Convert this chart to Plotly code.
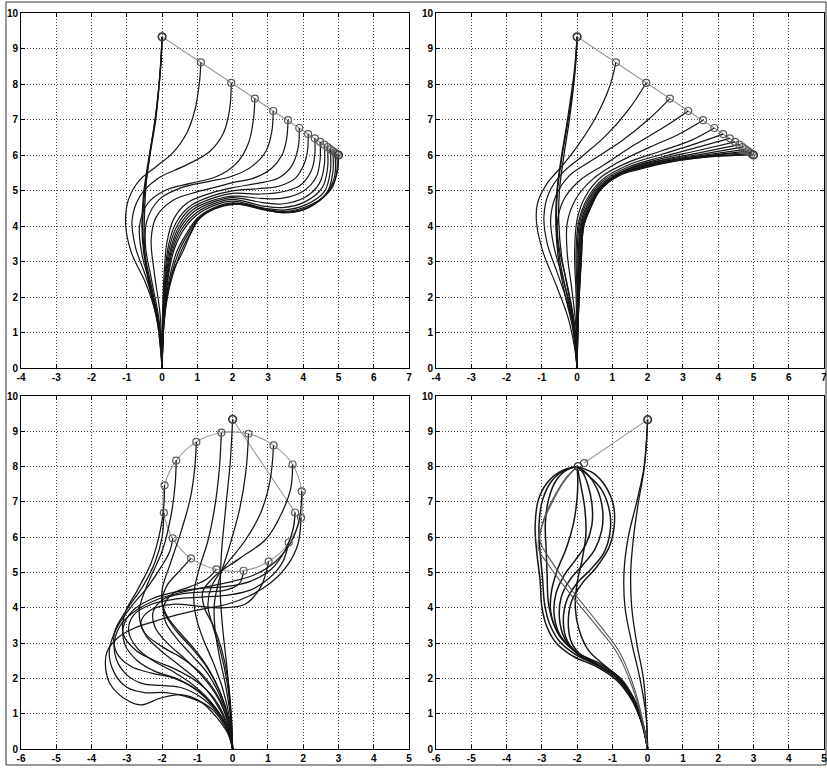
import plotly.graph_objects as go

# ---------------------------------------------------------------- data
# Target points shared by the two upper panels (straight-line trajectory)
TOP_TIP_X = [0.00, 1.10, 1.96, 2.63, 3.15, 3.57, 3.89, 4.14, 4.33, 4.48, 4.60, 4.69, 4.77, 4.84, 4.90, 4.95, 5.00]
TOP_TIP_Y = [9.33, 8.61, 8.03, 7.59, 7.24, 6.98, 6.76, 6.59, 6.47, 6.37, 6.29, 6.22, 6.16, 6.11, 6.07, 6.03, 6.00]

# Upper-left panel: backbone shapes (base -> tip)
TL_X = [
    [0, -0.09, -0.33, -0.52, -0.57, -0.52, -0.38, -0.19, -0.05, 0.00],
    [0, -0.12, -0.38, -0.50, -0.50, -0.45, -0.32, -0.16, -0.04, 0.00],
    [0, -0.06, -0.28, -0.47, -0.55, -0.50, -0.36, -0.18, -0.05, 0.00],
    [0, -0.05, -0.17, -0.47, -0.87, -1.03, -0.96, -0.65, -0.20, 0.30, 0.70, 0.94, 1.06, 1.10],
    [0, -0.03, -0.17, -0.47, -0.76, -0.85, -0.62, -0.10, 0.65, 1.35, 1.74, 1.92, 1.96],
    [0, -0.02, -0.13, -0.36, -0.58, -0.64, -0.42, 0.08, 0.80, 1.56, 2.12, 2.45, 2.59, 2.63],
    [0, -0.02, -0.10, -0.30, -0.47, -0.43, -0.08, 0.55, 1.30, 2.00, 2.55, 2.95, 3.11, 3.15],
    [0, -0.01, -0.06, -0.22, -0.31, -0.17, 0.30, 0.99, 1.55, 2.00, 2.60, 3.10, 3.40, 3.53, 3.57],
    [0, 0.01, 0.05, 0.14, 0.33, 0.71, 1.37, 2.00, 2.70, 3.30, 3.68, 3.86, 3.89],
    [0, 0.02, 0.07, 0.18, 0.40, 0.78, 1.40, 2.00, 2.70, 3.30, 3.78, 4.04, 4.13, 4.14],
    [0, 0.02, 0.08, 0.21, 0.45, 0.82, 1.42, 2.00, 2.75, 3.35, 3.92, 4.24, 4.33, 4.33],
    [0, 0.03, 0.09, 0.24, 0.49, 0.86, 1.44, 2.00, 2.80, 3.38, 4.00, 4.37, 4.48, 4.48],
    [0, 0.03, 0.10, 0.26, 0.52, 0.90, 1.46, 2.00, 2.85, 3.40, 4.04, 4.46, 4.60, 4.60],
    [0, 0.04, 0.11, 0.28, 0.55, 0.93, 1.47, 2.00, 2.88, 3.42, 4.05, 4.54, 4.69, 4.69],
    [0, 0.04, 0.12, 0.30, 0.58, 0.96, 1.48, 2.00, 2.91, 3.43, 4.03, 4.60, 4.77, 4.77],
    [0, 0.04, 0.13, 0.40, 0.70, 1.00, 1.48, 2.02, 2.94, 3.44, 4.02, 4.65, 4.84, 4.84],
    [0, 0.05, 0.14, 0.46, 0.75, 1.02, 1.47, 2.03, 2.97, 3.44, 4.01, 4.55, 4.88, 4.90],
    [0, 0.05, 0.15, 0.52, 0.80, 1.03, 1.46, 2.03, 2.98, 3.44, 4.00, 4.50, 4.84, 4.96, 4.95],
    [0, 0.05, 0.15, 0.30, 0.57, 0.82, 1.04, 1.46, 2.03, 2.50, 3.07, 3.44, 4.00, 4.48, 4.81, 4.98, 5.00],
]
TL_Y = [
    [0, 1.17, 2.30, 3.24, 4.00, 4.94, 5.89, 7.02, 8.43, 9.33],
    [0, 1.20, 2.40, 3.40, 4.30, 5.20, 6.20, 7.30, 8.50, 9.33],
    [0, 1.10, 2.20, 3.10, 3.90, 4.90, 5.90, 7.00, 8.40, 9.33],
    [0, 0.60, 1.50, 2.40, 3.25, 4.00, 4.72, 5.28, 5.65, 6.06, 6.62, 7.31, 8.06, 8.61],
    [0, 0.70, 1.62, 2.60, 3.42, 4.18, 4.85, 5.35, 5.70, 6.10, 6.62, 7.32, 8.03],
    [0, 0.60, 1.45, 2.40, 3.25, 4.00, 4.62, 5.00, 5.20, 5.40, 5.78, 6.34, 7.00, 7.59],
    [0, 0.60, 1.45, 2.49, 3.43, 4.15, 4.75, 5.08, 5.25, 5.41, 5.68, 6.12, 6.66, 7.24],
    [0, 0.60, 1.55, 2.68, 3.62, 4.25, 4.72, 4.96, 5.10, 5.22, 5.35, 5.62, 6.00, 6.45, 6.98],
    [0, 1.36, 2.49, 3.55, 4.20, 4.65, 4.92, 5.08, 5.20, 5.35, 5.70, 6.22, 6.76],
    [0, 1.30, 2.40, 3.45, 4.10, 4.55, 4.84, 4.99, 5.05, 5.12, 5.35, 5.78, 6.18, 6.59],
    [0, 1.30, 2.35, 3.40, 4.05, 4.50, 4.78, 4.92, 4.90, 4.95, 5.15, 5.58, 6.02, 6.47],
    [0, 1.28, 2.30, 3.35, 4.00, 4.45, 4.72, 4.84, 4.78, 4.78, 4.98, 5.38, 5.88, 6.37],
    [0, 1.27, 2.25, 3.30, 3.95, 4.40, 4.68, 4.80, 4.66, 4.62, 4.80, 5.20, 5.72, 6.29],
    [0, 1.25, 2.20, 3.25, 3.90, 4.34, 4.63, 4.75, 4.56, 4.52, 4.68, 5.08, 5.62, 6.22],
    [0, 1.24, 2.15, 3.20, 3.85, 4.29, 4.58, 4.70, 4.50, 4.45, 4.58, 4.97, 5.56, 6.16],
    [0, 1.23, 2.10, 3.24, 3.80, 4.22, 4.52, 4.65, 4.47, 4.41, 4.52, 4.90, 5.50, 6.11],
    [0, 1.22, 2.05, 3.24, 3.80, 4.20, 4.49, 4.63, 4.45, 4.39, 4.48, 4.80, 5.35, 6.07],
    [0, 1.21, 2.02, 3.24, 3.80, 4.19, 4.47, 4.62, 4.44, 4.38, 4.46, 4.74, 5.12, 5.60, 6.03],
    [0, 1.20, 2.00, 2.70, 3.24, 3.80, 4.18, 4.47, 4.61, 4.58, 4.42, 4.37, 4.45, 4.74, 5.10, 5.58, 6.00],
]

# Upper-right panel: backbone shapes (base -> tip)
TR_X = [
    [0, -0.11, -0.30, -0.49, -0.58, -0.56, -0.44, -0.25, -0.06, 0.00],
    [0, -0.08, -0.26, -0.44, -0.52, -0.50, -0.38, -0.21, -0.05, 0.00],
    [0, -0.13, -0.34, -0.52, -0.60, -0.58, -0.46, -0.28, -0.08, 0.00],
    [0, -0.06, -0.25, -0.60, -0.97, -1.15, -1.12, -0.85, -0.40, 0.08, 0.55, 0.93, 1.10],
    [0, -0.05, -0.24, -0.56, -0.85, -0.94, -0.80, -0.42, 0.14, 0.80, 1.46, 1.96],
    [0, -0.03, -0.17, -0.42, -0.66, -0.75, -0.61, -0.24, 0.42, 1.27, 2.02, 2.63],
    [0, -0.02, -0.12, -0.31, -0.50, -0.56, -0.38, 0.05, 0.80, 1.65, 2.49, 3.15],
    [0, -0.01, -0.05, -0.16, -0.28, -0.28, -0.05, 0.42, 1.18, 2.02, 2.91, 3.57],
    [0, -0.01, -0.03, -0.07, 0.00, 0.24, 0.71, 1.46, 2.40, 3.25, 3.89],
    [0, 0.00, 0.00, -0.03, 0.04, 0.28, 0.70, 1.45, 2.40, 3.30, 4.14],
    [0, 0.005, 0.01, 0.00, 0.07, 0.30, 0.70, 1.45, 2.42, 3.35, 4.33],
    [0, 0.01, 0.02, 0.03, 0.10, 0.32, 0.69, 1.45, 2.44, 3.40, 4.48],
    [0, 0.01, 0.03, 0.05, 0.12, 0.34, 0.68, 1.40, 2.45, 3.45, 4.60],
    [0, 0.01, 0.04, 0.07, 0.14, 0.36, 0.67, 1.35, 2.46, 3.50, 4.69],
    [0, 0.015, 0.045, 0.09, 0.16, 0.37, 0.66, 1.30, 2.50, 3.55, 4.77],
    [0, 0.02, 0.05, 0.10, 0.17, 0.38, 0.66, 1.26, 2.52, 3.60, 4.84],
    [0, 0.02, 0.055, 0.11, 0.18, 0.39, 0.65, 1.24, 2.55, 3.62, 4.90],
    [0, 0.02, 0.06, 0.115, 0.19, 0.40, 0.65, 1.22, 2.58, 3.65, 4.95],
    [0, 0.02, 0.06, 0.12, 0.19, 0.40, 0.65, 1.21, 1.78, 2.63, 3.67, 4.52, 5.00],
]
TR_Y = [
    [0, 1.17, 2.11, 3.05, 4.00, 4.94, 5.88, 7.00, 8.40, 9.33],
    [0, 1.20, 2.20, 3.15, 4.10, 5.00, 5.95, 7.05, 8.45, 9.33],
    [0, 1.15, 2.05, 3.00, 3.95, 4.90, 5.85, 6.95, 8.35, 9.33],
    [0, 0.51, 1.40, 2.35, 3.28, 4.10, 4.65, 5.20, 5.72, 6.35, 7.10, 7.95, 8.61],
    [0, 0.89, 1.74, 2.68, 3.52, 4.27, 4.93, 5.49, 5.96, 6.53, 7.28, 8.03],
    [0, 0.80, 1.64, 2.58, 3.43, 4.18, 4.83, 5.40, 5.85, 6.40, 7.00, 7.59],
    [0, 0.70, 1.55, 2.49, 3.33, 4.08, 4.74, 5.26, 5.75, 6.30, 6.80, 7.24],
    [0, 0.70, 1.36, 2.30, 3.24, 4.08, 4.74, 5.30, 5.80, 6.20, 6.60, 6.98],
    [0, 1.00, 2.11, 3.24, 4.18, 4.84, 5.40, 5.80, 6.12, 6.42, 6.76],
    [0, 1.00, 2.10, 3.20, 4.10, 4.76, 5.30, 5.72, 6.02, 6.30, 6.59],
    [0, 1.00, 2.10, 3.15, 4.08, 4.71, 5.24, 5.66, 5.95, 6.20, 6.47],
    [0, 1.00, 2.08, 3.10, 4.06, 4.67, 5.18, 5.62, 5.91, 6.12, 6.37],
    [0, 1.00, 2.06, 3.08, 4.04, 4.63, 5.13, 5.58, 5.87, 6.06, 6.29],
    [0, 1.00, 2.05, 3.06, 4.03, 4.60, 5.10, 5.54, 5.85, 6.02, 6.22],
    [0, 1.00, 2.04, 3.04, 4.02, 4.58, 5.07, 5.50, 5.83, 5.99, 6.16],
    [0, 1.00, 2.03, 3.03, 4.01, 4.57, 5.04, 5.47, 5.82, 5.97, 6.11],
    [0, 1.00, 2.02, 3.02, 4.00, 4.56, 5.02, 5.45, 5.81, 5.96, 6.07],
    [0, 1.00, 2.01, 3.01, 4.00, 4.55, 5.01, 5.44, 5.80, 5.95, 6.03],
    [0, 1.00, 2.00, 3.00, 4.00, 4.55, 5.00, 5.43, 5.60, 5.80, 5.94, 5.99, 6.00],
]

# Lower-left panel: circular trajectory, start point first
BL_TIP_X = [0.00, 1.94, 1.77, 1.96, 1.70, 1.16, 0.45, -0.32, -1.03, -1.60, -1.93, -1.95, -1.70, -1.18, -0.46, 0.31, 1.02, 1.59]
BL_TIP_Y = [9.34, 6.55, 6.70, 7.30, 8.06, 8.60, 8.93, 8.96, 8.70, 8.17, 7.47, 6.69, 5.97, 5.40, 5.09, 5.05, 5.31, 5.85]
# order in which the circle is traced (indices into BL_TIP_*)
BL_CIRCLE_ORDER = [2, 17, 16, 15, 14, 13, 12, 11, 10, 9, 8, 7, 6, 5, 4, 3, 1, 17]

BL_X = [
    [0, -0.05, -0.15, -0.28, -0.35, -0.32, -0.20, -0.07, 0.00],
    [0, -0.07, -0.44, -0.92, -1.48, -2.05, -2.61, -3.08, -3.46, -3.60, -3.56, -3.27, -2.80, -2.24, -1.58, -0.92, -0.16, 0.50, 1.07, 1.55, 1.85, 1.94],
    [0, -0.10, -0.45, -0.95, -1.50, -2.05, -2.55, -3.00, -3.30, -3.35, -3.15, -2.70, -2.10, -1.40, -0.70, 0.00, 0.65, 1.20, 1.65, 1.90, 1.96],
    [0, -0.12, -0.50, -1.00, -1.60, -2.20, -2.70, -3.05, -3.10, -2.85, -2.30, -1.60, -0.90, -0.20, 0.50, 1.10, 1.50, 1.72, 1.77],
    [0, -0.15, -0.55, -1.10, -1.70, -2.25, -2.70, -2.95, -2.80, -2.30, -1.60, -0.90, -0.20, 0.50, 1.05, 1.42, 1.59],
    [0, -0.15, -0.50, -1.00, -1.55, -2.05, -2.45, -2.60, -2.30, -1.70, -1.00, -0.30, 0.35, 0.80, 1.02],
    [0, -0.12, -0.42, -0.85, -1.35, -1.85, -2.20, -2.25, -1.95, -1.40, -0.80, -0.20, 0.20, 0.31],
    [0, -0.10, -0.38, -0.75, -1.20, -1.60, -1.90, -1.95, -1.70, -1.20, -0.75, -0.46],
    [0, -0.10, -0.35, -0.70, -1.10, -1.50, -1.85, -2.00, -1.85, -1.50, -1.18],
    [0, -0.20, -0.60, -1.20, -1.90, -2.50, -3.00, -3.35, -3.50, -3.30, -2.90, -2.40, -2.00, -1.78, -1.70],
    [0, -0.18, -0.55, -1.05, -1.65, -2.30, -2.90, -3.30, -3.35, -3.00, -2.55, -2.20, -2.00, -1.95],
    [0, -0.15, -0.50, -1.00, -1.60, -2.20, -2.75, -3.10, -3.05, -2.70, -2.30, -2.05, -1.95, -1.93],
    [0, -0.12, -0.42, -0.85, -1.40, -2.00, -2.50, -2.65, -2.40, -2.00, -1.75, -1.63, -1.60],
    [0, -0.10, -0.35, -0.72, -1.15, -1.60, -1.95, -2.00, -1.75, -1.45, -1.20, -1.07, -1.03],
    [0, -0.08, -0.28, -0.55, -0.85, -1.05, -1.10, -0.95, -0.70, -0.50, -0.38, -0.32],
    [0, -0.06, -0.20, -0.38, -0.50, -0.52, -0.38, -0.10, 0.20, 0.38, 0.45],
    [0, -0.05, -0.16, -0.34, -0.55, -0.70, -0.60, -0.20, 0.35, 0.80, 1.06, 1.16],
    [0, -0.04, -0.14, -0.32, -0.55, -0.80, -0.85, -0.50, 0.20, 0.95, 1.40, 1.65, 1.70],
]
BL_Y = [
    [0, 1.00, 2.20, 3.40, 4.40, 5.50, 6.80, 8.10, 9.34],
    [0, 0.31, 0.88, 1.35, 1.54, 1.44, 1.25, 1.44, 1.82, 2.29, 2.76, 3.14, 3.42, 3.61, 3.80, 3.95, 4.10, 4.35, 4.70, 5.20, 5.80, 6.55],
    [0, 0.45, 1.05, 1.50, 1.75, 1.80, 1.85, 2.10, 2.55, 3.05, 3.55, 3.95, 4.25, 4.45, 4.60, 4.75, 4.95, 5.30, 5.85, 6.55, 7.30],
    [0, 0.50, 1.15, 1.65, 2.00, 2.20, 2.50, 2.95, 3.45, 3.90, 4.25, 4.45, 4.55, 4.60, 4.75, 5.10, 5.65, 6.25, 6.70],
    [0, 0.60, 1.25, 1.80, 2.20, 2.50, 2.85, 3.35, 3.80, 4.10, 4.25, 4.30, 4.35, 4.50, 4.85, 5.30, 5.85],
    [0, 0.65, 1.35, 1.95, 2.40, 2.80, 3.20, 3.60, 3.95, 4.10, 4.05, 4.00, 4.10, 4.60, 5.31],
    [0, 0.70, 1.45, 2.05, 2.55, 3.00, 3.45, 3.90, 4.25, 4.40, 4.45, 4.50, 4.70, 5.05],
    [0, 0.75, 1.55, 2.20, 2.70, 3.15, 3.60, 4.05, 4.40, 4.60, 4.80, 5.09],
    [0, 0.80, 1.60, 2.30, 2.85, 3.30, 3.75, 4.20, 4.65, 5.05, 5.40],
    [0, 0.60, 1.15, 1.45, 1.60, 1.60, 1.75, 2.15, 2.75, 3.40, 4.00, 4.60, 5.20, 5.60, 5.97],
    [0, 0.65, 1.25, 1.70, 2.00, 2.15, 2.35, 2.75, 3.30, 3.95, 4.60, 5.30, 6.00, 6.69],
    [0, 0.70, 1.40, 1.90, 2.25, 2.50, 2.80, 3.25, 3.85, 4.50, 5.30, 6.20, 6.90, 7.47],
    [0, 0.75, 1.50, 2.10, 2.55, 2.90, 3.30, 3.90, 4.70, 5.60, 6.60, 7.50, 8.17],
    [0, 0.80, 1.60, 2.30, 2.85, 3.35, 3.90, 4.50, 5.30, 6.20, 7.10, 8.00, 8.70],
    [0, 0.85, 1.70, 2.45, 3.15, 3.80, 4.40, 5.10, 5.90, 6.90, 7.90, 8.96],
    [0, 0.90, 1.80, 2.65, 3.40, 4.10, 4.80, 5.70, 6.80, 7.90, 8.93],
    [0, 0.95, 1.90, 2.75, 3.45, 4.05, 4.60, 5.20, 5.90, 6.70, 7.60, 8.60],
    [0, 1.00, 2.00, 2.85, 3.50, 4.00, 4.45, 4.90, 5.40, 5.95, 6.70, 7.40, 8.06],
]

# Lower-right panel: start, commanded target, reached tip
BR_TIP_X = [0.00, -1.80, -1.97]
BR_TIP_Y = [9.33, 8.10, 8.00]

BR_X = [
    [0, -0.05, -0.22, -0.45, -0.64, -0.67, -0.55, -0.31, -0.10, 0.00],
    [0, -0.04, -0.12, -0.31, -0.45, -0.48, -0.40, -0.26, -0.09, 0.00],
    [0, -0.17, -0.45, -0.88, -1.44, -2.10, -2.58, -2.86, -3.00, -3.05, -3.14, -3.19, -3.10, -2.86, -2.48, -2.00],
    [0, -0.16, -0.42, -0.84, -1.38, -2.02, -2.50, -2.78, -2.92, -2.98, -3.05, -3.08, -2.98, -2.75, -2.40, -2.00],
    [0, -0.15, -0.40, -0.80, -1.32, -1.95, -2.42, -2.70, -2.82, -2.85, -2.88, -2.90, -2.80, -2.60, -2.30, -2.00],
    [0, -0.14, -0.40, -0.78, -1.35, -1.91, -2.29, -2.39, -2.29, -2.01, -1.63, -1.25, -1.07, -1.07, -1.30, -1.63, -2.00],
    [0, -0.14, -0.42, -0.82, -1.40, -1.97, -2.36, -2.50, -2.45, -2.20, -1.85, -1.50, -1.30, -1.28, -1.45, -1.72, -2.00],
    [0, -0.15, -0.44, -0.85, -1.45, -2.05, -2.48, -2.65, -2.60, -2.38, -2.05, -1.75, -1.58, -1.58, -1.70, -1.85, -2.00],
    [0, -0.15, -0.45, -0.87, -1.50, -2.10, -2.55, -2.75, -2.72, -2.55, -2.30, -2.10, -2.00, -1.98, -2.00],
    [0, -0.13, -0.38, -0.72, -1.20, -1.68, -1.95, -2.05, -2.00, -1.85, -1.75, -1.78, -1.88, -2.00],
    [0, -0.13, -0.38, -0.75, -1.28, -1.80, -2.15, -2.25, -2.15, -1.85, -1.45, -1.10, -0.95, -0.97, -1.20, -1.55, -2.00],
    [0, -0.15, -0.45, -0.85, -1.50, -2.20, -2.80, -3.10, -3.00, -2.70, -2.35, -2.00],
    [0, -0.14, -0.42, -0.80, -1.45, -2.15, -2.75, -3.05, -2.95, -2.65, -2.30, -2.00],
]
BR_Y = [
    [0, 1.00, 2.00, 3.00, 4.00, 5.00, 6.00, 7.00, 8.00, 9.33],
    [0, 1.00, 2.00, 3.00, 4.00, 5.00, 6.00, 7.00, 8.00, 9.33],
    [0, 0.73, 1.39, 1.95, 2.33, 2.62, 2.99, 3.47, 4.03, 4.79, 5.54, 6.30, 7.05, 7.53, 7.86, 8.00],
    [0, 0.75, 1.42, 1.98, 2.36, 2.66, 3.05, 3.55, 4.10, 4.85, 5.60, 6.35, 7.05, 7.55, 7.87, 8.00],
    [0, 0.77, 1.45, 2.00, 2.40, 2.70, 3.10, 3.65, 4.20, 4.95, 5.70, 6.40, 7.10, 7.60, 7.90, 8.00],
    [0, 0.68, 1.39, 1.95, 2.33, 2.62, 3.09, 3.65, 4.22, 4.69, 5.07, 5.54, 6.11, 6.68, 7.34, 7.70, 8.00],
    [0, 0.70, 1.40, 1.97, 2.38, 2.70, 3.15, 3.70, 4.30, 4.80, 5.20, 5.65, 6.20, 6.80, 7.40, 7.80, 8.00],
    [0, 0.72, 1.42, 2.00, 2.42, 2.76, 3.22, 3.80, 4.40, 4.90, 5.35, 5.80, 6.35, 6.95, 7.50, 7.85, 8.00],
    [0, 0.73, 1.43, 2.02, 2.45, 2.80, 3.30, 3.90, 4.50, 5.10, 5.70, 6.40, 7.10, 7.60, 8.00],
    [0, 0.70, 1.40, 1.95, 2.35, 2.80, 3.40, 4.00, 4.70, 5.40, 6.10, 6.80, 7.40, 8.00],
    [0, 0.68, 1.38, 1.93, 2.30, 2.58, 3.00, 3.60, 4.20, 4.70, 5.15, 5.70, 6.30, 6.90, 7.45, 7.82, 8.00],
    [0, 0.80, 1.80, 2.70, 3.55, 4.40, 5.20, 5.70, 6.30, 7.00, 7.60, 8.00],
    [0, 0.82, 1.85, 2.75, 3.62, 4.50, 5.35, 5.90, 6.50, 7.15, 7.70, 8.00],
]

TOP_X_TICKS = [-4, -3, -2, -1, 0, 1, 2, 3, 4, 5, 6, 7]
BOTTOM_X_TICKS = [-6, -5, -4, -3, -2, -1, 0, 1, 2, 3, 4, 5]
Y_TICKS = [0, 1, 2, 3, 4, 5, 6, 7, 8, 9, 10]

# ---------------------------------------------------------------- styling
W, H = 827, 768
CURVE = "#151515"
TRAJ = "#9a9a9a"
RING = "#5a5a5a"


def px_x(p):
    return p / W


def px_y(p):
    return 1 - p / H


fig = go.Figure()


def add_curves(xs, ys, ax, width=1.2, color=CURVE):
    xa, ya = ("x", "y") if ax == 1 else (f"x{ax}", f"y{ax}")
    for cx, cy in zip(xs, ys):
        fig.add_trace(go.Scatter(
            x=cx, y=cy, mode="lines", xaxis=xa, yaxis=ya,
            line=dict(color=color, width=width, shape="spline", smoothing=1.0),
            hoverinfo="skip", showlegend=False))


def add_path(xs, ys, ax, spline=False):
    xa, ya = ("x", "y") if ax == 1 else (f"x{ax}", f"y{ax}")
    fig.add_trace(go.Scatter(
        x=xs, y=ys, mode="lines", xaxis=xa, yaxis=ya,
        line=dict(color=TRAJ, width=1.1, shape="spline" if spline else "linear"),
        hoverinfo="skip", showlegend=False))


def add_rings(xs, ys, ax, size=7, color=RING):
    xa, ya = ("x", "y") if ax == 1 else (f"x{ax}", f"y{ax}")
    fig.add_trace(go.Scatter(
        x=xs, y=ys, mode="markers", xaxis=xa, yaxis=ya,
        marker=dict(symbol="circle-open", size=size, color=color, line=dict(width=1.2)),
        hoverinfo="skip", showlegend=False))


# upper-left
add_path(TOP_TIP_X, TOP_TIP_Y, 1)
add_curves(TL_X[:3], TL_Y[:3], 1, width=1.3)
add_curves(TL_X[3:], TL_Y[3:], 1)
add_rings(TOP_TIP_X, TOP_TIP_Y, 1)
add_rings(TOP_TIP_X[:1] + TOP_TIP_X[-1:], TOP_TIP_Y[:1] + TOP_TIP_Y[-1:], 1, size=8, color="#333")

# upper-right
add_path(TOP_TIP_X, TOP_TIP_Y, 2)
add_curves(TR_X[:3], TR_Y[:3], 2, width=1.3)
add_curves(TR_X[3:], TR_Y[3:], 2)
add_rings(TOP_TIP_X, TOP_TIP_Y, 2)
add_rings(TOP_TIP_X[:1] + TOP_TIP_X[-1:], TOP_TIP_Y[:1] + TOP_TIP_Y[-1:], 2, size=8, color="#333")

# lower-left
add_path([BL_TIP_X[0], BL_TIP_X[2]], [BL_TIP_Y[0], BL_TIP_Y[2]], 3)
add_path([BL_TIP_X[i] for i in BL_CIRCLE_ORDER], [BL_TIP_Y[i] for i in BL_CIRCLE_ORDER], 3, spline=True)
add_curves(BL_X, BL_Y, 3, width=1.25)
add_rings(BL_TIP_X, BL_TIP_Y, 3)
add_rings(BL_TIP_X[:1], BL_TIP_Y[:1], 3, size=8, color="#333")

# lower-right
add_path(BR_TIP_X[:2], BR_TIP_Y[:2], 4)
add_curves(BR_X[:2], BR_Y[:2], 4, width=1.3)
add_curves(BR_X[2:11], BR_Y[2:11], 4, width=1.5)
add_curves(BR_X[11:], BR_Y[11:], 4, width=1.1, color="#555")
add_rings(BR_TIP_X[:2], BR_TIP_Y[:2], 4)
add_rings(BR_TIP_X[2:], BR_TIP_Y[2:], 4, size=8, color="#333")
add_rings(BR_TIP_X[:1], BR_TIP_Y[:1], 4, size=8, color="#333")

tick_font = dict(family="Liberation Sans, Arial, sans-serif", size=10, color="black", weight="bold")
axis_common = dict(
    showgrid=True, gridcolor="#444444", griddash="1px,2px", gridwidth=1,
    zeroline=False, showline=True, linecolor="black", linewidth=1,
    mirror="ticks", ticks="inside", ticklen=4, tickcolor="black",
    tickfont=tick_font, fixedrange=True, automargin=False,
    ticklabeloverflow="allow",
)

dom_left = [px_x(21), px_x(409)]
dom_right = [px_x(436), px_x(824)]
dom_top = [px_y(368), px_y(13)]
dom_bottom = [px_y(749), px_y(396)]

layout_axes = {}
panels = [
    (1, dom_left, dom_top, TOP_X_TICKS),
    (2, dom_right, dom_top, TOP_X_TICKS),
    (3, dom_left, dom_bottom, BOTTOM_X_TICKS),
    (4, dom_right, dom_bottom, BOTTOM_X_TICKS),
]
for idx, dx, dy, xt in panels:
    xn = "xaxis" if idx == 1 else f"xaxis{idx}"
    yn = "yaxis" if idx == 1 else f"yaxis{idx}"
    anchor_x = "y" if idx == 1 else f"y{idx}"
    anchor_y = "x" if idx == 1 else f"x{idx}"
    layout_axes[xn] = dict(axis_common, domain=dx, anchor=anchor_x, range=[xt[0], xt[-1]],
                           tickvals=xt, ticktext=[str(v) for v in xt])
    layout_axes[yn] = dict(axis_common, domain=dy, anchor=anchor_y, range=[0, 10],
                           tickvals=Y_TICKS, ticktext=[str(v) for v in Y_TICKS])

fig.update_layout(
    width=W, height=H,
    margin=dict(l=0, r=0, t=0, b=0),
    paper_bgcolor="white", plot_bgcolor="white",
    showlegend=False,
    shapes=[dict(type="rect", xref="paper", yref="paper",
                 x0=px_x(6), x1=px_x(826), y0=px_y(765), y1=px_y(2),
                 line=dict(color="#333", width=1), layer="below")],
    **layout_axes,
)

fig.write_html("out.html")
